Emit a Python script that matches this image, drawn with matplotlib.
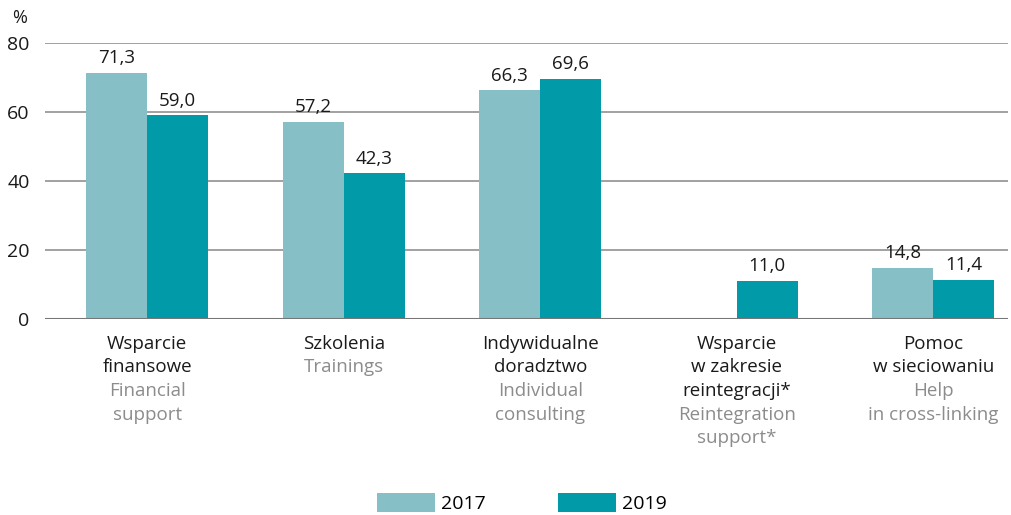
import matplotlib.pyplot as plt
import numpy as np

plt.rcParams['font.family'] = ['Open Sans', 'DejaVu Sans']

labels_pl = [['Wsparcie', 'finansowe'], ['Szkolenia'], ['Indywidualne', 'doradztwo'],
             ['Wsparcie', 'w zakresie', 'reintegracji*'], ['Pomoc', 'w sieciowaniu']]
labels_en = [['Financial', 'support'], ['Trainings'], ['Individual', 'consulting'],
             ['Reintegration', 'support*'], ['Help', 'in cross-linking']]
vals_2017 = [71.3, 57.2, 66.3, np.nan, 14.8]
vals_2019 = [59.0, 42.3, 69.6, 11.0, 11.4]
years = ['2017', '2019']
yticks = [0, 20, 40, 60, 80]

c17 = '#86bfc6'
c19 = '#009aa8'

fig = plt.figure(figsize=(10.11, 5.15), dpi=100)
ax = fig.add_axes([45/1011, 1-319/515, (1008-45)/1011, 276/515])

x = np.arange(len(vals_2019))
w = 0.31
b1 = ax.bar(x - w/2, vals_2017, w, color=c17, label=years[0], zorder=2)
b2 = ax.bar(x + w/2, vals_2019, w, color=c19, label=years[1], zorder=2)

def fmt(v):
    return ('%.1f' % v).replace('.', ',')

for bars, vals in ((b1, vals_2017), (b2, vals_2019)):
    for r, v in zip(bars, vals):
        if np.isnan(v):
            continue
        ax.annotate(fmt(v), (r.get_x() + r.get_width()/2, v), xytext=(0, 4),
                    textcoords='offset points', ha='center', va='bottom',
                    fontsize=13.5, color='#1a1a1a')

ax.set_ylim(0, 80)
ax.set_xlim(-0.52, 4.38)
ax.set_yticks(yticks)
ax.set_yticklabels([str(t) for t in yticks], fontsize=14, color='#1a1a1a')
ax.set_xticks([])
ax.tick_params(axis='y', length=0, pad=11)
ax.grid(axis='y', color='#9a9a9a', linewidth=1.3, zorder=0)
for s in ax.spines.values():
    s.set_visible(False)
ax.axhline(0, color='#777777', linewidth=1.5, zorder=3)

step = 23.5/276
for i in range(len(x)):
    y = -25/276
    for line in labels_pl[i]:
        ax.text(x[i], y, line, transform=ax.get_xaxis_transform(), ha='center', va='center',
                fontsize=13.5, color='#1a1a1a')
        y -= step
    for line in labels_en[i]:
        ax.text(x[i], y, line, transform=ax.get_xaxis_transform(), ha='center', va='center',
                fontsize=13.5, color='#8c8c8c')
        y -= step

fig.text(20/1011, 1-18/515, '%', ha='center', va='center', fontsize=13, color='#1a1a1a')

fig.legend(loc='center', bbox_to_anchor=(522/1011, 1-503/515), ncol=2, frameon=False,
           fontsize=14, handlelength=3.0, handleheight=1.15, columnspacing=3.7,
           handletextpad=0.3)

fig.savefig('out.png', dpi=100)
